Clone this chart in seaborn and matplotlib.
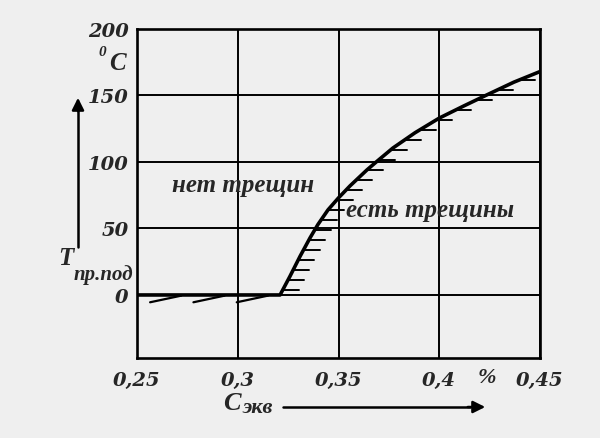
import matplotlib.pyplot as plt
import numpy as np
import pandas as pd
import seaborn as sns

# данные кривой (C экв, %, и T пр.под, °C)
c_ekv = [0.25, 0.30, 0.321, 0.3259, 0.3309, 0.3359, 0.3398, 0.3448, 0.350,
         0.3557, 0.3641, 0.3691, 0.377, 0.388, 0.40, 0.412, 0.4237, 0.437, 0.45]
t_pod = [0, 0, 0, 14, 29, 43, 53, 64, 73, 82, 94, 100.5, 110.5, 122, 133, 142,
         150.5, 160, 168]
x_ticks = [0.25, 0.30, 0.35, 0.40, 0.45]
x_labels = ['0,25', '0,3', '0,35', '0,4', '0,45']
y_ticks = [0, 50, 100, 150, 200]
y_labels = ['0', '50', '100', '150', '200']

df = pd.DataFrame({'C': c_ekv, 'T': t_pod})

sns.set_style('white')
plt.rcParams['font.family'] = ['Liberation Serif', 'DejaVu Serif']
plt.rcParams['font.weight'] = 'bold'
plt.rcParams['font.style'] = 'italic'

fig = plt.figure(figsize=(6, 4.39), dpi=100)
bg = '#efefef'
fig.patch.set_facecolor(bg)
ax = fig.add_axes([137 / 600, 1 - 359 / 439, 403 / 600, 329 / 439])
ax.set_facecolor(bg)

sns.lineplot(data=df, x='C', y='T', ax=ax, color='black', linewidth=2.6, sort=False)

# штриховка вдоль кривой (сторона "есть трещины")
rise = df.iloc[2:]
levels = np.arange(4, 166, 7.5)
hx = np.interp(levels, rise['T'], rise['C'])
for x0, y0 in zip(hx, levels):
    ax.plot([x0 + 0.0005, x0 + 0.008], [y0, y0], color='black', lw=1.4)
# штриховка вдоль горизонтального участка
for x0 in np.arange(0.2565, 0.31, 0.0215):
    ax.plot([x0, x0 + 0.0155], [-5.5, -0.5], color='black', lw=1.6)

ax.set_xlim(0.25, 0.45)
ax.set_ylim(-47.4, 200)
ax.set_xticks(x_ticks)
ax.set_xticklabels(x_labels, family='DejaVu Serif')
ax.set_yticks(y_ticks)
ax.set_yticklabels(y_labels, family='DejaVu Serif')
ax.tick_params(length=0, labelsize=14, pad=6)
ax.tick_params(axis='x', pad=9)
ax.grid(True, color='black', lw=1.4)
for s in ax.spines.values():
    s.set_color('black')
    s.set_linewidth(1.9)
ax.set_xlabel('')
ax.set_ylabel('')
fig.text(487 / 600, 1 - 378 / 439, '%', fontsize=16, ha='center', va='center')

fig.text(243 / 600, 1 - 186 / 439, 'нет трещин', fontsize=18, ha='center', va='center')
fig.text(430 / 600, 1 - 211 / 439, 'есть трещины', fontsize=18, ha='center', va='center')

# единицы и обозначение оси Y
fig.text(102 / 600, 1 - 52 / 439, '0', fontsize=11, ha='center', va='center')
fig.text(117 / 600, 1 - 63 / 439, 'C', fontsize=18, ha='center', va='center')
fig.text(66 / 600, 1 - 259 / 439, 'T', fontsize=18, ha='center', va='center')
fig.text(74 / 600, 1 - 275 / 439, 'пр.под', fontsize=15, ha='left', va='center')
fig.text(232 / 600, 1 - 404 / 439, 'C', fontsize=19, ha='center', va='center')
fig.text(258 / 600, 1 - 408 / 439, 'экв', fontsize=16, ha='center', va='center')

# стрелки
fig.add_artist(plt.Line2D([78 / 600, 78 / 600], [1 - 248 / 439, 1 - 110 / 439],
                          color='black', lw=1.8))
ax.annotate('', xy=(78 / 600, 1 - 96 / 439), xytext=(78 / 600, 1 - 115 / 439),
            xycoords='figure fraction',
            arrowprops=dict(arrowstyle='-|>', color='black', lw=1.8, mutation_scale=18))
fig.add_artist(plt.Line2D([283 / 600, 470 / 600], [1 - 408 / 439, 1 - 408 / 439],
                          color='black', lw=1.8))
ax.annotate('', xy=(488 / 600, 1 - 408 / 439), xytext=(465 / 600, 1 - 408 / 439),
            xycoords='figure fraction',
            arrowprops=dict(arrowstyle='-|>', color='black', lw=1.8, mutation_scale=18))

fig.savefig('out.png', dpi=100, facecolor=bg)
